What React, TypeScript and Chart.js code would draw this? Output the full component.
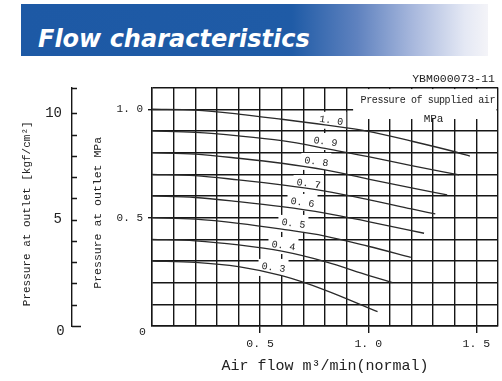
import React, { useEffect, useRef } from 'react';
import { Chart, registerables } from 'chart.js';

Chart.register(...registerables);

// ---------- data ----------
const pressureLabels = ['1. 0', '0. 9', '0. 8', '0. 7', '0. 6', '0. 5', '0. 4', '0. 3'];

const flow10 = [0, 0.2, 0.4, 0.6, 0.8, 1.0, 1.2, 1.4, 1.47];
const outlet10 = [1.0, 0.996, 0.978, 0.954, 0.928, 0.898, 0.853, 0.804, 0.784];
const flow09 = [0, 0.2, 0.4, 0.6, 0.8, 1.0, 1.2, 1.42];
const outlet09 = [0.9, 0.893, 0.877, 0.855, 0.82, 0.781, 0.74, 0.697];
const flow08 = [0, 0.2, 0.4, 0.6, 0.8, 1.0, 1.2, 1.365];
const outlet08 = [0.8, 0.793, 0.774, 0.751, 0.72, 0.678, 0.637, 0.605];
const flow07 = [0, 0.2, 0.4, 0.6, 0.8, 1.0, 1.2, 1.31];
const outlet07 = [0.7, 0.694, 0.674, 0.651, 0.622, 0.583, 0.54, 0.517];
const flow06 = [0, 0.2, 0.4, 0.6, 0.8, 1.0, 1.258];
const outlet06 = [0.6, 0.593, 0.574, 0.551, 0.521, 0.482, 0.428];
const flow05 = [0, 0.2, 0.4, 0.6, 0.8, 1.0, 1.197];
const outlet05 = [0.5, 0.493, 0.474, 0.447, 0.415, 0.368, 0.317];
const flow04 = [0, 0.2, 0.4, 0.6, 0.8, 1.0, 1.112];
const outlet04 = [0.4, 0.393, 0.374, 0.345, 0.297, 0.234, 0.2];
const flow03 = [0, 0.2, 0.4, 0.6, 0.8, 1.043];
const outlet03 = [0.3, 0.294, 0.274, 0.232, 0.166, 0.066];

const curveFlows = [flow10, flow09, flow08, flow07, flow06, flow05, flow04, flow03];
const curveOutlets = [outlet10, outlet09, outlet08, outlet07, outlet06, outlet05, outlet04, outlet03];

// label anchor positions (data units)
const labelFlow = [0.829, 0.802, 0.76, 0.724, 0.696, 0.654, 0.608, 0.562];
const labelOutlet = [0.947, 0.849, 0.757, 0.655, 0.568, 0.471, 0.369, 0.268];

const xTickValues = [0.5, 1.0, 1.5];
const xTickText = ['0. 5', '1. 0', '1. 5'];
const yTickValues = [0.5, 1.0];
const yTickText = ['0. 5', '1. 0'];
const kgfTickValues = [5, 10];
const kgfTickText = ['5', '10'];

const X_MAX = 1.6;
const Y_MAX = 1.1;
const MPA_PER_KGF = 0.0980665;

const MONO = '"Liberation Mono", "DejaVu Sans Mono", monospace';
const INK = '#161616';
const TXT = '#222';

const findLabel = (vals: number[], texts: string[], v: number) => {
  const i = vals.findIndex((t) => Math.abs(t - v) < 1e-6);
  return i >= 0 ? texts[i] : '';
};

const annotPlugin = {
  id: 'annot',
  beforeDatasetsDraw(chart: any) {
    const { ctx, chartArea } = chart;
    const x = chart.scales.x;
    const y = chart.scales.y;
    ctx.save();
    ctx.fillStyle = '#fff';
    for (let i = 0; i < pressureLabels.length; i++) {
      const px = x.getPixelForValue(labelFlow[i]);
      const py = y.getPixelForValue(labelOutlet[i]);
      ctx.fillRect(px - 15, py - 9, 30, 17);
    }
    const bx = x.getPixelForValue(0.93);
    const by = y.getPixelForValue(0.955);
    ctx.fillRect(bx, chartArea.top + 1.5, chartArea.right - 1.5 - bx, by - chartArea.top - 1.5);
    ctx.restore();
  },
  afterDatasetsDraw(chart: any) {
    const { ctx, chartArea } = chart;
    const x = chart.scales.x;
    const y = chart.scales.y;
    const yk = chart.scales.yk;
    ctx.save();
    ctx.fillStyle = TXT;
    ctx.strokeStyle = INK;

    // curve labels
    ctx.font = `10px ${MONO}`;
    ctx.textAlign = 'center';
    ctx.textBaseline = 'middle';
    for (let i = 0; i < pressureLabels.length; i++) {
      const px = x.getPixelForValue(labelFlow[i]);
      const py = y.getPixelForValue(labelOutlet[i]);
      ctx.save();
      ctx.translate(px, py);
      ctx.rotate((8 * Math.PI) / 180);
      ctx.fillText(pressureLabels[i], 0, 0);
      ctx.restore();
    }

    // legend text
    ctx.textAlign = 'right';
    ctx.font = `10px ${MONO}`;
    try { (ctx as any).letterSpacing = '-0.4px'; } catch (e) {}
    ctx.fillText('Pressure of supplied air', chartArea.right - 3, y.getPixelForValue(1.042));
    try { (ctx as any).letterSpacing = '0px'; } catch (e) {}
    ctx.textAlign = 'center';
    ctx.font = `11px ${MONO}`;
    ctx.fillText('MPa', x.getPixelForValue(1.302), y.getPixelForValue(0.955));

    // drawing number
    ctx.textAlign = 'right';
    ctx.font = `11.5px ${MONO}`;
    ctx.fillText('YBM000073-11', chartArea.right - 3, chartArea.top - 9);

    // origin labels
    ctx.textAlign = 'center';
    ctx.font = `11.5px ${MONO}`;
    ctx.fillText('0', chartArea.left - 9.5, y.getPixelForValue(0) + 5.5);
    ctx.font = `14px ${MONO}`;
    ctx.fillText('0', yk.right - 11.5, yk.getPixelForValue(0) + 5.5);

    // vertical axis titles
    const midY = (chartArea.top + chartArea.bottom) / 2 + 6;
    ctx.save();
    ctx.translate(y.left + 26, midY);
    ctx.rotate(-Math.PI / 2);
    ctx.font = `11.5px ${MONO}`;
    ctx.fillText('Pressure at outlet MPa', 0, 0);
    ctx.restore();
    ctx.save();
    ctx.translate(yk.left + 27, midY + 1);
    ctx.rotate(-Math.PI / 2);
    ctx.font = `11px ${MONO}`;
    ctx.fillText('Pressure at outlet [kgf/cm²]', 0, 0);
    ctx.restore();

    // kgf/cm2 inward ticks
    ctx.lineWidth = 1.3;
    ctx.beginPath();
    for (let v = 0; v <= 10; v++) {
      const py = Math.round(yk.getPixelForValue(v)) + 0.5;
      ctx.moveTo(yk.right, py);
      ctx.lineTo(yk.right + (v === 0 ? 9 : 5), py);
    }
    const ty = Math.round(yk.top) + 0.5;
    ctx.moveTo(yk.right, ty);
    ctx.lineTo(yk.right + 5, ty);
    ctx.stroke();
    ctx.restore();
  },
};

export default function App() {
  const ref = useRef<HTMLCanvasElement>(null);

  useEffect(() => {
    document.body.style.margin = '0';
    const canvas = ref.current;
    if (!canvas) return;

    const datasets = curveFlows.map((fl, i) => ({
      label: pressureLabels[i],
      data: fl.map((f, j) => ({ x: f, y: curveOutlets[i][j] })),
      borderColor: '#2a2a2a',
      borderWidth: 1.3,
      pointRadius: 0,
      fill: false,
      cubicInterpolationMode: 'monotone' as const,
    }));

    const chart = new Chart(canvas, {
      type: 'line',
      data: { datasets },
      options: {
        animation: false,
        responsive: false,
        maintainAspectRatio: false,
        layout: { padding: { top: 87.6, right: 2, left: 0, bottom: 0 } },
        plugins: {
          legend: { display: false },
          tooltip: { enabled: false },
        },
        elements: { point: { radius: 0 } },
        scales: {
          x: {
            type: 'linear',
            min: 0,
            max: X_MAX,
            ticks: {
              stepSize: 0.1,
              autoSkip: false,
              maxRotation: 0,
              padding: 4,
              color: TXT,
              font: { family: MONO, size: 11.5 },
              callback: (v: any) => findLabel(xTickValues, xTickText, Number(v)),
            },
            grid: {
              color: INK,
              lineWidth: 1.4,
              tickLength: 7,
              tickWidth: 1.4,
              tickColor: (c: any) =>
                c.tick && findLabel(xTickValues, xTickText, c.tick.value) ? INK : 'rgba(0,0,0,0)',
            },
            border: { color: INK, width: 1.4 },
            title: {
              display: true,
              text: 'Air flow m³/min(normal)',
              color: TXT,
              font: { family: MONO, size: 15 },
              padding: { top: 0, bottom: 6 },
            },
            afterFit: (s: any) => { s.height = 55; },
          },
          y: {
            type: 'linear',
            position: 'left',
            weight: 0,
            min: 0,
            max: Y_MAX,
            ticks: {
              stepSize: 0.1,
              autoSkip: false,
              padding: 5,
              color: TXT,
              font: { family: MONO, size: 11 },
              callback: (v: any) => findLabel(yTickValues, yTickText, Number(v)),
            },
            grid: {
              color: INK,
              lineWidth: 1.4,
              tickLength: 4,
              tickWidth: 1.4,
              tickColor: (c: any) =>
                c.tick && findLabel(yTickValues, yTickText, c.tick.value) ? INK : 'rgba(0,0,0,0)',
            },
            border: { color: INK, width: 1.4 },
            title: { display: false },
            afterFit: (s: any) => { s.width = 80; },
          },
          yk: {
            type: 'linear',
            position: 'left',
            weight: 1,
            min: 0,
            max: Y_MAX / MPA_PER_KGF,
            ticks: {
              stepSize: 1,
              autoSkip: false,
              padding: 10,
              color: TXT,
              font: { family: MONO, size: 14 },
              callback: (v: any) => findLabel(kgfTickValues, kgfTickText, Number(v)),
            },
            grid: { display: true, drawOnChartArea: false, drawTicks: false, color: 'rgba(0,0,0,0)' },
            border: { display: true, color: INK, width: 1.4 },
            title: { display: false },
            afterFit: (s: any) => { s.width = 72; },
          },
        },
      } as any,
      plugins: [annotPlugin],
    });

    return () => chart.destroy();
  }, []);

  return (
    <div style={{ position: 'relative', width: 502, height: 381, background: '#fff', overflow: 'hidden' }}>
      <canvas
        ref={ref}
        width={502}
        height={381}
        style={{ position: 'absolute', left: 0, top: 0, display: 'block', width: 502, height: 381 }}
      />
      <div
        style={{
          position: 'absolute',
          left: 21,
          top: 4,
          width: 467,
          height: 52,
          background:
            'linear-gradient(to right, #1d59a5 0%, #1f5ba6 58%, #5f82bf 72%, #a8b8dd 84%, #e4e8f4 95%, #f4f4f8 100%)',
        }}
      >
        <span
          style={{
            position: 'absolute',
            left: 17,
            top: 23,
            font: 'italic bold 24px "DejaVu Sans", sans-serif',
            lineHeight: '24px',
            color: '#fff',
            whiteSpace: 'nowrap',
          }}
        >
          Flow characteristics
        </span>
      </div>
    </div>
  );
}
